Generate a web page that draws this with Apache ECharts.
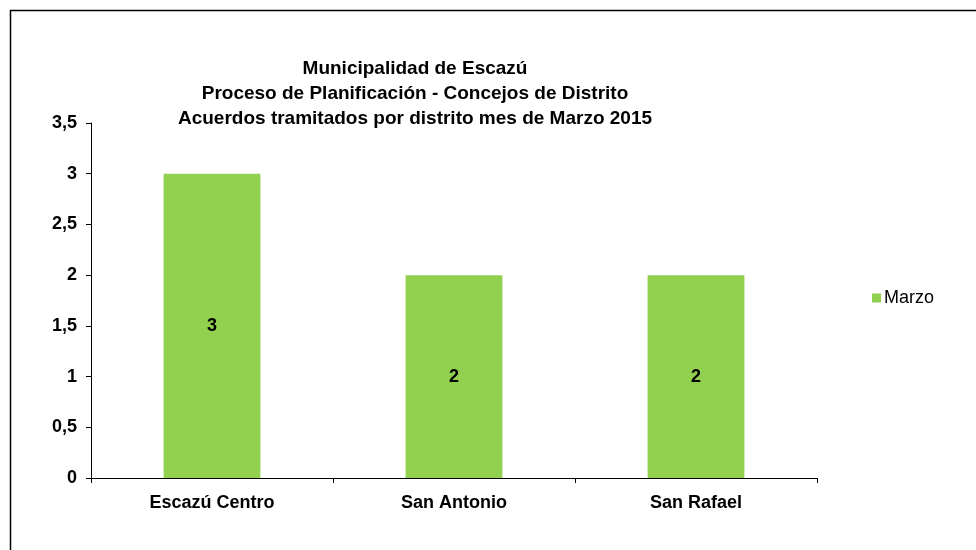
<!DOCTYPE html>
<html>
<head>
<meta charset="utf-8">
<script src="https://cdn.jsdelivr.net/npm/echarts@6/dist/echarts.min.js"></script>
<style>
  html, body { margin: 0; padding: 0; background: #fff; }
  #chart { width: 976px; height: 550px; }
</style>
</head>
<body>
<div id="chart"></div>
<script>
var districts = ['Escazú Centro', 'San Antonio', 'San Rafael'];
var marzo = [3, 2, 2];
var titleLines = [
    'Municipalidad de Escazú',
    'Proceso de Planificación - Concejos de Distrito',
    'Acuerdos tramitados por distrito mes de Marzo 2015'
];

var font = '"Liberation Sans Narrow", "Arial Narrow", "Liberation Sans", Arial, sans-serif';
var chart = echarts.init(document.getElementById('chart'));

var option = {
    animation: false,
    title: {
        text: titleLines.join('\n'),
        left: 410,
        textAlign: 'center',
        top: 51,
        textStyle: {
            fontFamily: font,
            fontSize: 19,
            fontWeight: 'bold',
            color: '#000',
            lineHeight: 25
        }
    },
    legend: {
        data: ['Marzo'],
        icon: 'rect',
        left: 867,
        top: 284,
        itemWidth: 9,
        itemHeight: 9,
        itemGap: 4,
        textStyle: { fontFamily: font, fontSize: 18, color: '#000', padding: [0, 0, 0, -2] }
    },
    graphic: [{
        type: 'rect',
        shape: { x: 10.5, y: 10.5, width: 1000, height: 600 },
        style: { fill: 'none', stroke: '#000', lineWidth: 1.5 },
        silent: true
    }],
    grid: { left: 91, top: 123, width: 726, bottom: 72 },
    xAxis: {
        type: 'category',
        data: districts,
        axisLine: { lineStyle: { color: '#000', width: 1 } },
        axisTick: { show: true, length: 5, lineStyle: { color: '#000' } },
        axisLabel: { fontFamily: font, fontSize: 18, fontWeight: 'bold', color: '#000', margin: 16 }
    },
    yAxis: {
        type: 'value',
        min: 0,
        max: 3.5,
        interval: 0.5,
        axisLine: { show: true, lineStyle: { color: '#000', width: 1 } },
        axisTick: { show: true, length: 5, lineStyle: { color: '#000' } },
        splitLine: { show: false },
        axisLabel: {
            fontFamily: font, fontSize: 18, fontWeight: 'bold', color: '#000', margin: 14,
            formatter: function (v) { return String(v).replace('.', ','); }
        }
    },
    series: [{
        name: 'Marzo',
        type: 'bar',
        data: marzo,
        barWidth: '40%',
        itemStyle: { color: '#92D050' },
        label: {
            show: true,
            position: 'inside',
            fontFamily: font,
            fontSize: 18,
            fontWeight: 'bold',
            color: '#000'
        }
    }]
};

chart.setOption(option);
</script>
</body>
</html>
